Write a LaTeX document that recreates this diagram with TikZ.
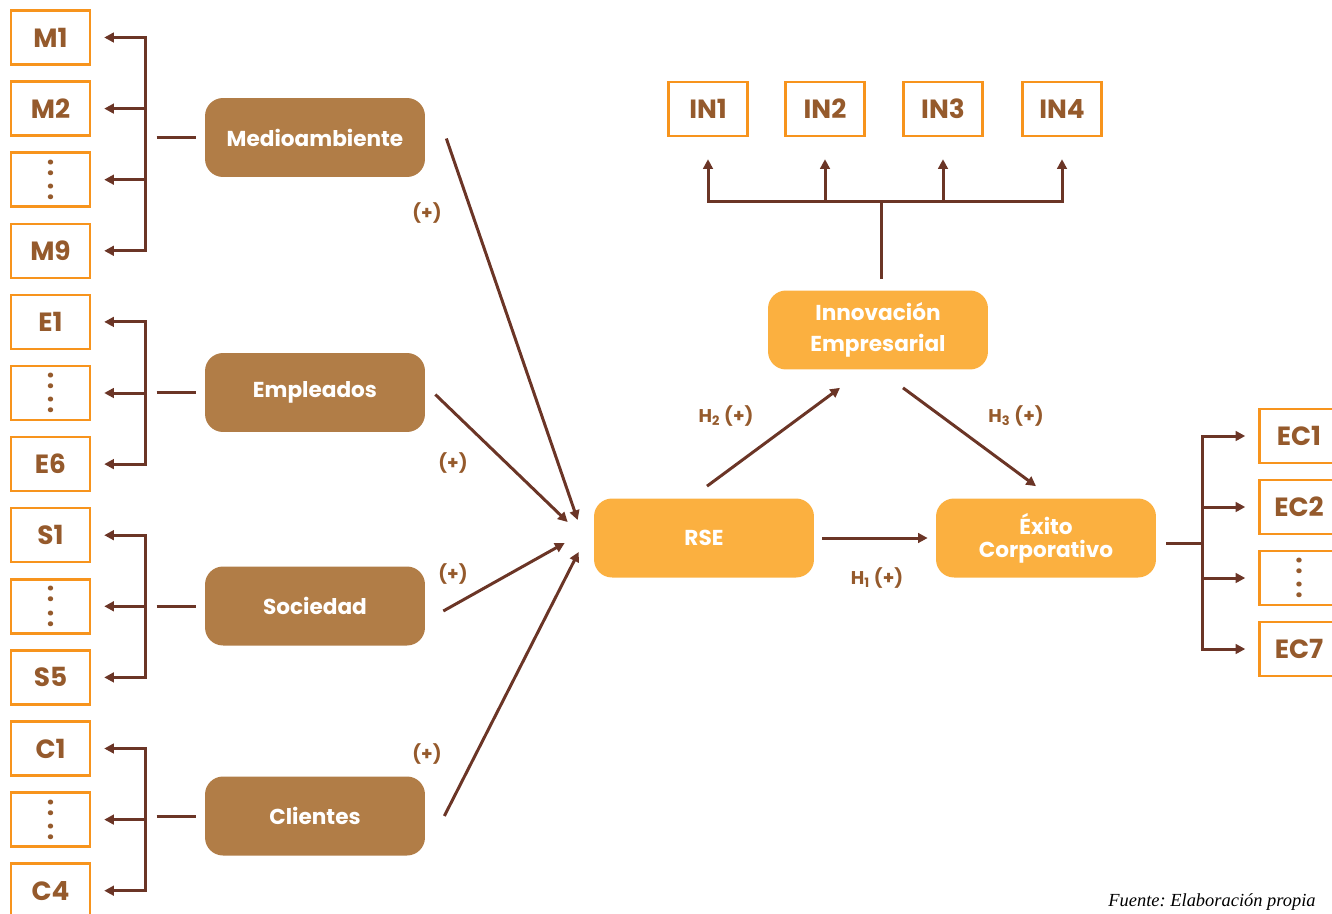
\documentclass[tikz,border=0pt]{standalone}
\usepackage{fontspec}
\setmainfont{Poppins}
\newfontfamily\fuentefont{Liberation Serif}
\usetikzlibrary{arrows.meta,calc}
\definecolor{naranja}{HTML}{F7941D}
\definecolor{amarillo}{HTML}{FBB040}
\definecolor{cafe}{HTML}{B17D47}
\definecolor{marron}{HTML}{6B3526}
\definecolor{letra}{HTML}{955A2C}
\newcommand{\puntos}{\shortstack{:\\[2pt]:}}
\frenchspacing
\begin{document}
\begin{tikzpicture}[x=0.02cm,y=-0.02cm,
  indicador/.style={draw=naranja,line width=1.4pt,fill=white,minimum width=1.58cm,
    minimum height=1.08cm,inner sep=0pt,text=letra,font=\fontsize{15}{16}\selectfont\bfseries},
  dimension/.style={fill=cafe,rounded corners=0.36cm,minimum width=4.4cm,minimum height=1.58cm,
    align=center,text=white,font=\fontsize{12.3}{14}\selectfont\bfseries},
  constructo/.style={dimension,fill=amarillo},
  linea/.style={draw=marron,line width=1.7pt},
  flecha/.style={linea,-{Triangle[length=5.5pt,width=5.5pt]}},
  signo/.style={text=letra,font=\fontsize{10.5}{12}\selectfont\bfseries}]
\useasboundingbox (0,0) rectangle (1332,913);
% indicadores de las dimensiones
\foreach \n/\lab [count=\k from 0] in {m1/M1,m2/M2,md/\puntos,m9/M9,e1/E1,ed/\puntos,e6/E6,
    s1/S1,sd/\puntos,s5/S5,c1/C1,cd/\puntos,c4/C4}
  \node[indicador] (\n) at (50.5,{37.5+71.1*\k}) {\lab};
\node[dimension] (medio) at (315,137.5) {Medioambiente};
\node[dimension] (emple) at (315,392.5) {Empleados};
\node[dimension] (socie) at (315,606) {Sociedad};
\node[dimension] (clien) at (315,816) {Clientes};
\foreach \d/\a/\z/\lst in {medio/m1/m9/{m1,m2,md,m9},emple/e1/e6/{e1,ed,e6},
    socie/s1/s5/{s1,sd,s5},clien/c1/c4/{c1,cd,c4}} {
  \path (\d.west) ++(-59,0) coordinate (b);
  \draw[linea] ($(b)+(11,0)$) -- ($(\d.west)+(-9,0)$);
  \draw[linea,line cap=rect] (b |- \a) -- (b |- \z);
  \foreach \t in \lst
    \draw[flecha] (b |- \t) -- ($(\t.east)+(13,0)$);
}
% modelo central
\node[constructo] (rse) at (704,538) {RSE};
\node[constructo] (exito) at (1046,538) {Éxito\\[-1pt]Corporativo};
\node[constructo] (innov) at (878,330) {Innovación\\[3.5pt]Empresarial};
\draw[flecha] ($(medio.east)+(21,1)$) -- ($(rse.west)+(-16,-18)$);
\draw[flecha] ($(emple.east)+(10,2)$) -- ($(rse.west)+(-26,-16)$);
\draw[flecha] ($(socie.east)+(18,5)$) -- ($(rse.west)+(-29,5)$);
\draw[flecha] ($(clien.east)+(19,0)$) -- ($(rse.west)+(-15,14)$);
\node[signo] (p1) at (427,213) {(+)};
\node[signo] (p2) at (453,463) {(+)};
\node[signo] (p3) at (453,574) {(+)};
\node[signo] (p4) at (427,754) {(+)};
\draw[flecha] ($(rse.east)+(8,0)$) -- ($(exito.west)+(-8,0)$);
\draw[flecha] ($(rse.north)+(3,-12)$) -- ($(innov.south)+(-38,18)$);
\draw[flecha] ($(innov.south)+(25,18)$) -- ($(exito.north)+(-10,-12)$);
\node[signo] (h1) at (877,578) {H\textsubscript{1} (+)};
\node[signo] (h2) at (726,416) {H\textsubscript{2} (+)};
\node[signo] (h3) at (1016,416) {H\textsubscript{3} (+)};
% indicadores de innovacion
\foreach \i/\x in {1/708,2/825,3/943,4/1062}
  \node[indicador] (in\i) at (\x,109) {IN\i};
\path (innov.north) ++(3,-89) coordinate (bi);
\draw[linea] ($(innov.north)+(3,-11)$) -- (bi);
\draw[linea,line cap=rect] (bi -| in1) -- (bi -| in4);
\foreach \i in {1,...,4}
  \draw[flecha] (bi -| in\i) -- ($(in\i.south)+(0,22)$);
% indicadores de exito
\foreach \n/\lab [count=\k from 0] in {ec1/EC1,ec2/EC2,ecd/\puntos,ec7/EC7}
  \node[indicador] (\n) at (1299,{436+71*\k}) {\lab};
\path (exito.east) ++(46,5) coordinate (be);
\draw[linea] ($(exito.east)+(10,5)$) -- (be);
\draw[linea,line cap=rect] (be |- ec1) -- (be |- ec7);
\foreach \t in {ec1,ec2,ecd,ec7}
  \draw[flecha] (be |- \t) -- ($(\t.west)+(-13,0)$);
\node[anchor=base west,inner sep=0pt,font=\fuentefont\itshape\fontsize{10.5}{12}\selectfont] (fuente)
  at (1108,906) {Fuente: Elaboración propia};
\end{tikzpicture}
\end{document}
